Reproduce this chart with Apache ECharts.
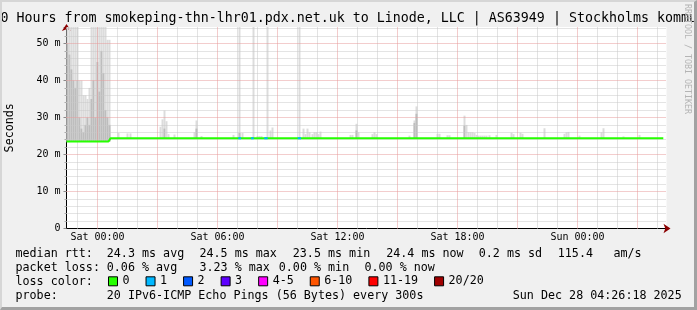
<!DOCTYPE html>
<html><head><meta charset="utf-8">
<script src="https://cdn.jsdelivr.net/npm/echarts@6/dist/echarts.min.js"></script>
<style>
html,body{margin:0;padding:0;background:#f0f0f0;}
#wrap{position:relative;width:697px;height:310px;overflow:hidden;background:#f0f0f0;}
#chart{position:absolute;left:0;top:0;width:697px;height:310px;}
#frame{position:absolute;left:0;top:0;width:697px;height:310px;box-sizing:border-box;border-top:2px solid #d6d6d6;border-left:2px solid #d6d6d6;border-right:3px solid #a2a2a2;border-bottom:3px solid #a2a2a2;pointer-events:none;}
</style></head><body>
<div id="wrap"><div id="chart"></div><div id="frame"></div></div>
<script>
// ---------- DATA ----------
const TITLE = "30 Hours from smokeping-thn-lhr01.pdx.net.uk to Linode, LLC | AS63949 | Stockholms kommun, Sweden";
const xMin = -1.55, xMax = 28.45;              // hours relative to Sat 00:00
const xLabelHours = [0, 6, 12, 18, 24];
const xLabelTexts = ["Sat 00:00", "Sat 06:00", "Sat 12:00", "Sat 18:00", "Sun 00:00"];
const yMax = 54.46;                             // ms
const yName = "Seconds";

// median rtt line (ms)
const medianT = [-1.55, 0.55, 0.65, 28.29];
const medianV = [23.5, 23.5, 24.4, 24.4];

// loss = 1 segments on the median line
const loss1Start = [7.04, 7.68, 8.34, 10.01];
const loss1End   = [7.18, 7.81, 8.51, 10.18];
const loss1V = 24.4;

// smoke: early heavy period (bucket start hours)
const earlyT    = [-1.55,-1.45,-1.35,-1.25,-1.15,-1.05,-0.95,-0.85,-0.75,-0.65,-0.55,-0.45,-0.35,-0.25,-0.15,-0.05,0.05,0.15,0.25,0.35,0.45,0.55];
const earlyHi   = [55,55,55,55,55,55,40,40,36,36,35,38,55,55,55,55,55,55,55,55,51,51];
const earlyDark = [50,47,43,40,38,40,30,27,26,28,30,28,35,40,30,45,37,48,42,32,30,28];
const earlyLow = 23.5;

// smoke: later spikes
const spikeT    = [1.0,1.45,1.6,3.1,3.2,3.3,3.4,3.5,3.8,4.8,4.9,5.15,6.75,7.05,7.2,7.75,7.95,8.05,8.15,8.45,8.6,8.7,10.05,10.25,10.35,10.45,10.55,10.7,10.8,10.9,11.0,11.1,12.6,12.7,12.9,13.0,13.7,13.8,13.9,15.55,15.8,15.9,16.95,17.05,17.45,17.55,18.3,18.4,18.5,18.6,18.7,18.8,18.9,19.0,19.1,19.2,19.3,19.4,19.55,19.9,20.65,20.75,21.1,21.2,22.3,23.3,23.4,23.5,24.05,25.15,25.25,26.25,27.05];
const spikeHi   = [25.8,25.7,25.7,27.5,29.5,31.9,29,25.5,25.4,26,29.2,25,25.3,55,25.8,55,25,25,25,55,26.5,27.3,55,27,25.5,27,26,25.5,26,26,25.5,26.2,25.3,25.3,28.3,26,25.5,26,25.5,25.1,29.2,33,25.6,25.6,25.2,25.2,30.5,28,26,26,26,25.8,25.3,25.1,25.1,25.1,25.1,25.1,25.2,25.3,25.9,25.5,25.9,25.6,27.1,25.6,26,26.1,25.1,26,27.1,24.9,25.3];
const spikeDark = [0,0,0,0,0,27,0,0,0,0,27,0,0,25.8,0,0,0,0,0,0,0,0,0,0,0,0,0,0,0,0,0,0,0,0,26.5,0,0,0,0,0,28.5,31,0,0,0,0,27.8,0,0,0,0,0,0,0,0,0,0,0,0,0,0,0,0,0,0,0,0,0,0,0,0,0,0];
const spikeLow = 24.4;
const bucketW = 0.1;

// loss legend
const lossLevels = ["0","1","2","3","4-5","6-10","11-19","20/20"];
const lossColors = ["#26ff00","#00b8ff","#0059ff","#5e00ff","#ff00ff","#ff5500","#ff0000","#a00000"];

// statistics text
const statRows = [
  ["median rtt:", "24.3 ms avg", "24.5 ms max", "23.5 ms min", "24.4 ms now", "0.2 ms sd", "115.4", "am/s"],
  ["packet loss:", "0.06 % avg", "3.23 % max", "0.00 % min", "0.00 % now"],
  ["loss color:"],
  ["probe:", "20 IPv6-ICMP Echo Pings (56 Bytes) every 300s", "Sun Dec 28 04:26:18 2025"]
];

// ---------- LAYOUT ----------
const MONO = "'DejaVu Sans Mono', monospace";
const rowY = [254.3, 268.3, 282.3, 296];
const rowX = [
  [15.5, 106.8, 199.5, 292.8, 386.2, 478.8, 557.8, 613.5],
  [15.5, 106.8, 199.5, 278.8, 364.5],
  [15.5],
  [15.5, 106.8, 512.8]
];

const smokeData = [];
earlyT.forEach((t, i) => smokeData.push([t, t + bucketW, earlyLow, earlyHi[i], earlyDark[i]]));
spikeT.forEach((t, i) => smokeData.push([t, t + bucketW, spikeLow, spikeHi[i], spikeDark[i]]));

const loss1Data = [];
loss1Start.forEach((s, i) => { loss1Data.push([s, loss1V], [loss1End[i], loss1V], [loss1End[i], null]); });

const vMinor = [], vMajor = [], hMinor = [], hMajor = [];
for (let h = Math.ceil(xMin); h <= xMax; h++) (h % 3 === 0 ? vMajor : vMinor).push({ xAxis: h });
for (let v = 2; v < yMax; v += 2) (v % 10 === 0 ? hMajor : hMinor).push({ yAxis: v });

function renderSmoke(params, api) {
  const t0 = api.value(0), t1 = api.value(1), lo = api.value(2), hi = api.value(3), dk = api.value(4);
  const cs = params.coordSys;
  const children = [];
  const mk = (top, color) => {
    const p0 = api.coord([t0, top]), p1 = api.coord([t1, lo]);
    const shape = echarts.graphic.clipRectByRect(
      { x: p0[0], y: p0[1], width: p1[0] - p0[0], height: p1[1] - p0[1] },
      { x: cs.x, y: cs.y, width: cs.width, height: cs.height });
    if (shape) children.push({ type: 'rect', shape, style: { fill: color } });
  };
  mk(hi, '#dcdcdc');
  if (dk > lo) mk(dk, '#bdbdbd');
  return { type: 'group', children };
}

const gridLineSeries = (data, color) => ({
  type: 'line', data: [], silent: true, z: 3,
  markLine: { silent: true, symbol: ['none', 'none'], label: { show: false }, animation: false,
    lineStyle: { color, type: [1, 1], width: 1 }, emphasis: { disabled: true }, data }
});

const lossSeries = lossLevels.map((name, i) => ({
  name, type: 'line', z: 6, showSymbol: false, silent: true,
  color: lossColors[i],
  lineStyle: { width: 2, color: lossColors[i] },
  itemStyle: { color: lossColors[i] },
  data: i === 0 ? medianT.map((t, k) => [t, medianV[k]]) : (i === 1 ? loss1Data : [])
}));

const graphics = [
  { type: 'text', x: -7.5, y: 19, style: { text: TITLE, font: "13.3px " + MONO, fill: '#000', align: 'left', verticalAlign: 'middle' } },
  { type: 'text', x: 687.5, y: 4, rotation: -Math.PI / 2, style: { text: 'RRDTOOL / TOBI OETIKER', font: "8.3px " + MONO, fill: '#b4b4b4', align: 'left', verticalAlign: 'middle' } }
];
statRows.forEach((row, r) => row.forEach((txt, c) => graphics.push({
  type: 'text', x: rowX[r][c], y: rowY[r],
  style: { text: txt, font: "11.7px " + MONO, fill: '#000', align: 'left', verticalAlign: 'middle' }
})));

const chart = echarts.init(document.getElementById('chart'), null, { renderer: 'canvas' });
chart.setOption({
  animation: false,
  backgroundColor: 'transparent',
  grid: { left: 66.5, top: 27, width: 600, height: 201.5, show: true, backgroundColor: '#ffffff', borderWidth: 0, containLabel: false, outerBoundsMode: 'none' },
  xAxis: [{
    type: 'value', min: xMin, max: xMax,
    axisLine: { show: true, onZero: false, lineStyle: { color: '#000', width: 1 } },
    axisTick: { show: false },
    splitLine: { show: false },
    axisLabel: { customValues: xLabelHours, formatter: v => xLabelTexts[xLabelHours.indexOf(v)] || '', fontFamily: MONO, fontSize: 10, color: '#000', margin: 4 }
  }, {
    type: 'value', min: xMin, max: xMax, position: 'bottom',
    axisLine: { show: true, onZero: false, symbol: ['none', 'arrow'], symbolSize: [7, 7], symbolOffset: [0, 4], lineStyle: { color: '#8b0000', width: 0 } },
    axisTick: { show: false }, axisLabel: { show: false }, splitLine: { show: false }
  }],
  yAxis: [{
    type: 'value', min: 0, max: yMax, interval: 10,
    name: yName, nameLocation: 'middle', nameGap: 51,
    nameTextStyle: { fontFamily: MONO, fontSize: 11.7, color: '#000' },
    axisLine: { show: true, onZero: false, lineStyle: { color: '#000', width: 1 } },
    axisTick: { show: true, length: 3, lineStyle: { color: '#888' } },
    minorTick: { show: true, splitNumber: 5, length: 2, lineStyle: { color: '#aaa' } },
    splitLine: { show: false },
    axisLabel: { showMaxLabel: false, formatter: v => v === 0 ? '0' : v + ' m', fontFamily: MONO, fontSize: 10, color: '#000', margin: 6 }
  }, {
    type: 'value', min: 0, max: yMax, position: 'left',
    axisLine: { show: true, onZero: false, symbol: ['none', 'arrow'], symbolSize: [7, 7], symbolOffset: [0, 3], lineStyle: { color: '#8b0000', width: 0 } },
    axisTick: { show: false }, axisLabel: { show: false }, splitLine: { show: false }
  }],
  legend: {
    data: lossLevels, left: 108, top: 275.3, padding: 0, orient: 'horizontal',
    icon: 'rect', itemWidth: 9, itemHeight: 9, itemGap: 16, selectedMode: false,
    itemStyle: { borderColor: '#000', borderWidth: 1 },
    textStyle: { fontFamily: MONO, fontSize: 11.7, color: '#000' }
  },
  graphic: graphics,
  series: [
    { type: 'custom', z: 2, silent: true, renderItem: renderSmoke, encode: { x: [0, 1], y: [2, 3] }, data: smokeData },
    gridLineSeries(vMinor, '#c8c8c8'),
    gridLineSeries(hMinor, '#c8c8c8'),
    gridLineSeries(vMajor, '#e79a9a'),
    gridLineSeries(hMajor, '#e79a9a'),
    ...lossSeries
  ]
});
</script>
</body></html>
